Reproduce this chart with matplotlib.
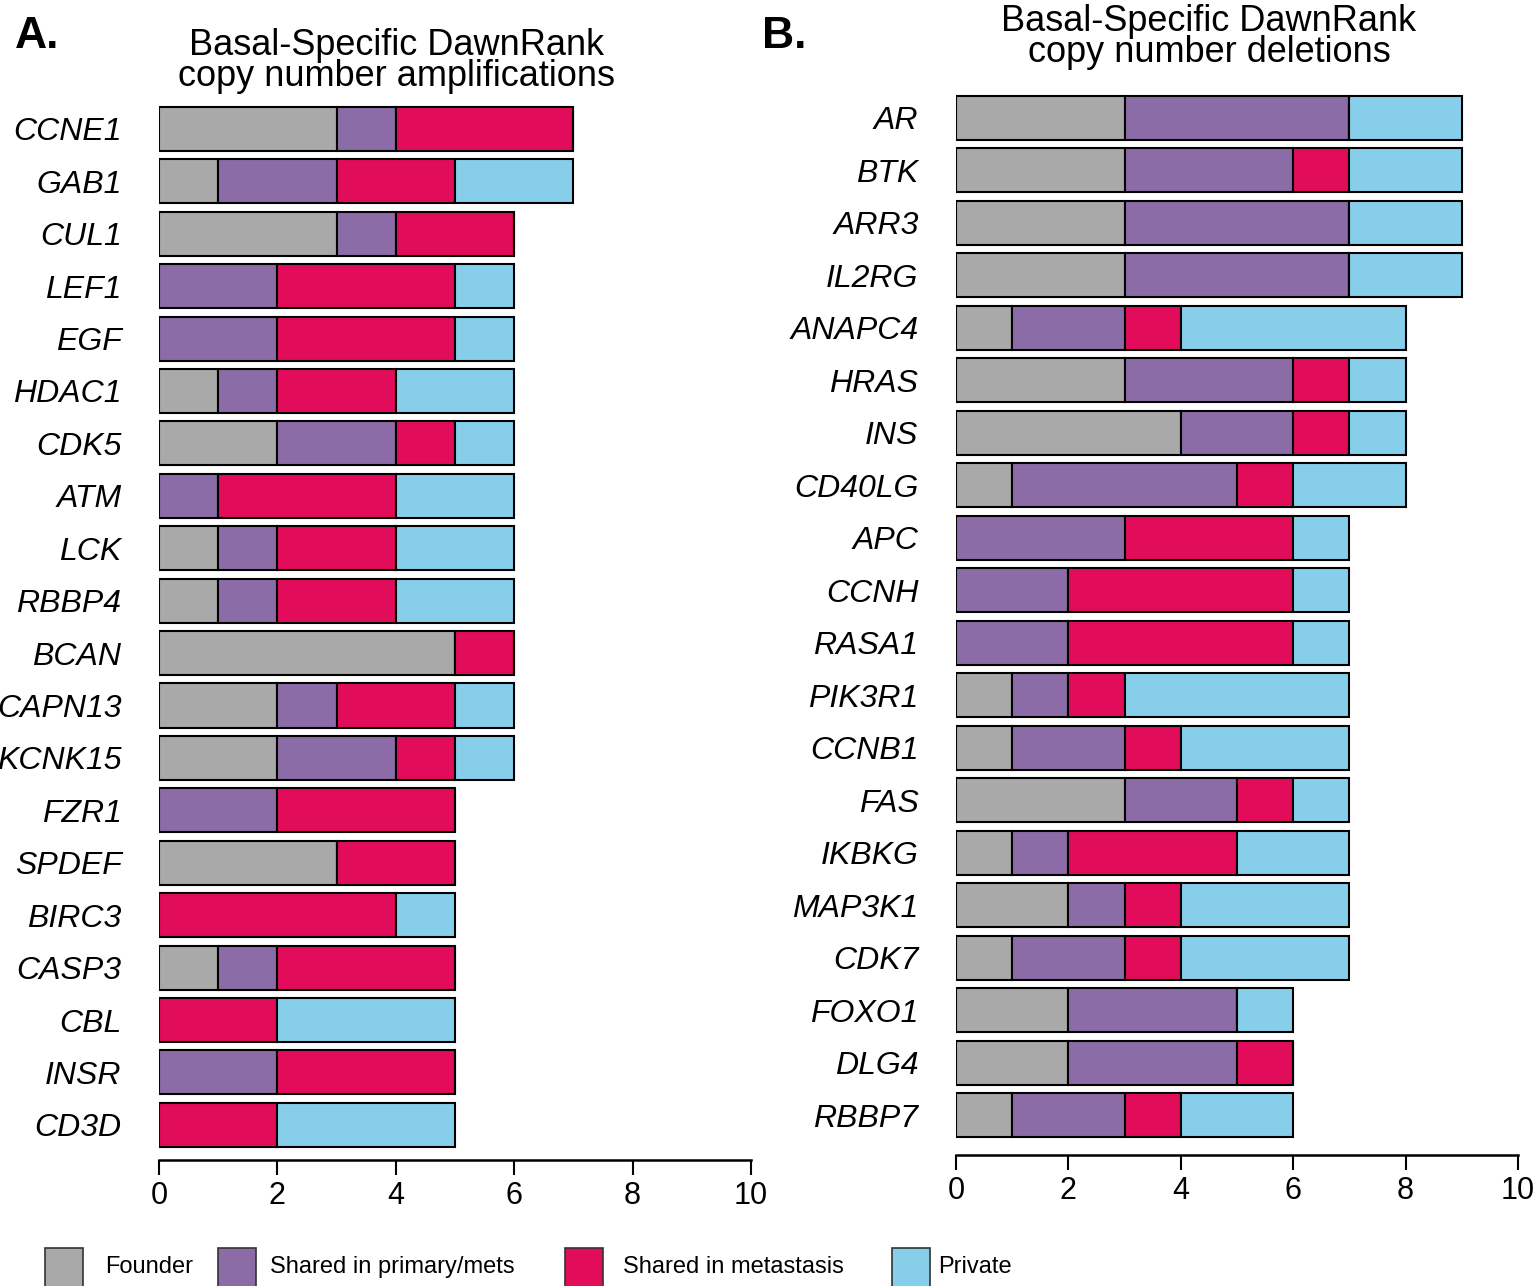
import numpy as np
import matplotlib.pyplot as plt
from matplotlib.patches import Rectangle

plt.rcParams['font.family'] = ['Liberation Sans', 'DejaVu Sans']

# ── Data ──────────────────────────────────────────────────────────────────────
categories = ["Founder", "Shared in primary/mets", "Shared in metastasis", "Private"]
colors = ["#A9A9A9", "#8C6CA6", "#E20D5A", "#87CEEB"]

genes_amp = ["CCNE1", "GAB1", "CUL1", "LEF1", "EGF", "HDAC1", "CDK5", "ATM", "LCK",
             "RBBP4", "BCAN", "CAPN13", "KCNK15", "FZR1", "SPDEF", "BIRC3", "CASP3",
             "CBL", "INSR", "CD3D"]
amp_founder = [3, 1, 3, 0, 0, 1, 2, 0, 1, 1, 5, 2, 2, 0, 3, 0, 1, 0, 0, 0]
amp_shared  = [1, 2, 1, 2, 2, 1, 2, 1, 1, 1, 0, 1, 2, 2, 0, 0, 1, 0, 2, 0]
amp_mets    = [3, 2, 2, 3, 3, 2, 1, 3, 2, 2, 1, 2, 1, 3, 2, 4, 3, 2, 3, 2]
amp_private = [0, 2, 0, 1, 1, 2, 1, 2, 2, 2, 0, 1, 1, 0, 0, 1, 0, 3, 0, 3]

genes_del = ["AR", "BTK", "ARR3", "IL2RG", "ANAPC4", "HRAS", "INS", "CD40LG", "APC",
             "CCNH", "RASA1", "PIK3R1", "CCNB1", "FAS", "IKBKG", "MAP3K1", "CDK7",
             "FOXO1", "DLG4", "RBBP7"]
del_founder = [3, 3, 3, 3, 1, 3, 4, 1, 0, 0, 0, 1, 1, 3, 1, 2, 1, 2, 2, 1]
del_shared  = [4, 3, 4, 4, 2, 3, 2, 4, 3, 2, 2, 1, 2, 2, 1, 1, 2, 3, 3, 2]
del_mets    = [0, 1, 0, 0, 1, 1, 1, 1, 3, 4, 4, 1, 1, 1, 3, 1, 1, 0, 1, 1]
del_private = [2, 2, 2, 2, 4, 1, 1, 2, 1, 1, 1, 4, 3, 1, 2, 3, 3, 1, 0, 2]

W, H = 1539, 1286
fig = plt.figure(figsize=(W / 100, H / 100), dpi=100)


def panel(rect, ylim, genes, series):
    ax = fig.add_axes(rect)
    y = np.arange(len(genes))
    left = np.zeros(len(genes))
    for vals, col in zip(series, colors):
        vals = np.array(vals, dtype=float)
        ax.barh(y, vals, left=left, height=0.84, color=col,
                edgecolor="black", linewidth=1.5)
        left += vals
    ax.set_xlim(0, 10)
    ax.set_ylim(*ylim)
    ax.set_xticks(np.arange(0, 11, 2))
    ax.set_yticks(y)
    ax.set_yticklabels(genes, fontsize=23, fontstyle="italic")
    ax.tick_params(axis="y", length=0, pad=27)
    ax.tick_params(axis="x", length=11, width=1.5, labelsize=22, pad=4)
    for s in ["left", "right", "top"]:
        ax.spines[s].set_visible(False)
    ax.spines["bottom"].set_linewidth(1.8)
    return ax


# px → figure fraction helpers
def fx(px):
    return px / W


def fy(px):
    return 1 - px / H


panel([fx(159), fy(1160), fx(592), (1160 - 100) / H], (19.67, -0.55), genes_amp,
      [amp_founder, amp_shared, amp_mets, amp_private])
panel([fx(956), fy(1155), fx(562), (1155 - 90) / H], (19.76, -0.53), genes_del,
      [del_founder, del_shared, del_mets, del_private])

# ── Titles & panel letters ────────────────────────────────────────────────────
fig.text(fx(15), fy(48), "A.", fontsize=32, fontweight="bold", va="baseline")
fig.text(fx(762), fy(48), "B.", fontsize=32, fontweight="bold", va="baseline")
fig.text(fx(397), fy(61), "Basal-Specific DawnRank\ncopy number amplifications",
         fontsize=26, ha="center", va="center", linespacing=0.86)
fig.text(fx(1209), fy(37), "Basal-Specific DawnRank\ncopy number deletions",
         fontsize=26, ha="center", va="center", linespacing=0.86)

# ── Legend ────────────────────────────────────────────────────────────────────
patch_x = [45, 218, 565, 892]
text_x = [105, 270, 623, 938]
for px, tx, lab, col in zip(patch_x, text_x, categories, colors):
    fig.add_artist(Rectangle((fx(px), fy(1300)), fx(38), (1300 - 1248) / H,
                             transform=fig.transFigure, facecolor=col,
                             edgecolor="#333333", linewidth=1.2))
    fig.text(fx(tx), fy(1267), lab, fontsize=17, va="center")

fig.savefig("out.png", dpi=100)
